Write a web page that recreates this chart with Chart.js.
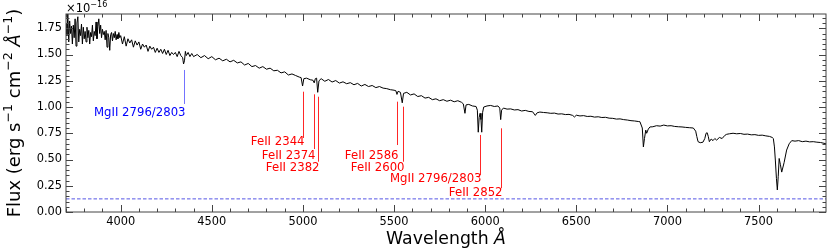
<!DOCTYPE html>
<html>
<head>
<meta charset="utf-8">
<script src="https://cdn.jsdelivr.net/npm/chart.js@4.4.0/dist/chart.umd.min.js"></script>
<style>
html, body { margin: 0; padding: 0; background: #fff; }
#wrap { width: 830px; height: 252px; }
</style>
</head>
<body>
<div id="wrap"><canvas id="spec" width="830" height="252"></canvas></div>
<script>
// spectrum (flux in units of 1e-16)
const wave = [
  3700,3705,3710,3715,3720,3725,3730,3735,3740,3745,
  3750,3755,3760,3765,3770,3775,3780,3785,3790,3795,
  3800,3805,3810,3815,3820,3825,3830,3835,3840,3845,
  3850,3855,3860,3865,3870,3875,3880,3885,3890,3895,
  3900,3905,3910,3915,3920,3925,3930,3935,3940,3945,
  3950,3955,3960,3965,3970,3975,3980,3985,3990,3995,
  4000,4010,4020,4030,4040,4050,4060,4070,4080,4090,
  4100,4110,4120,4130,4140,4150,4160,4170,4180,4190,
  4200,4210,4220,4230,4240,4250,4260,4270,4280,4290,
  4300,4310,4320,4330,4340,4345,4350,4355,4360,4370,
  4380,4390,4400,4420,4440,4460,4480,4500,4520,4540,
  4560,4580,4600,4620,4640,4660,4680,4700,4720,4740,
  4760,4780,4800,4820,4840,4860,4880,4900,4920,4940,
  4960,4980,4990,4998,5005,5020,5040,5055,5062,5068,
  5075,5081,5088,5100,5120,5140,5160,5180,5200,5220,
  5240,5260,5280,5300,5320,5340,5360,5380,5400,5420,
  5440,5460,5480,5500,5510,5516,5522,5535,5545,5552,
  5570,5590,5610,5630,5650,5670,5690,5710,5730,5750,
  5770,5790,5810,5830,5850,5870,5880,5889,5895,5910,
  5930,5950,5957,5962,5967,5972,5977,5981,5986,5992,
  6010,6030,6050,6070,6080,6085,6090,6100,6120,6140,
  6160,6180,6200,6220,6240,6260,6275,6285,6300,6320,
  6340,6360,6380,6400,6420,6440,6460,6480,6490,6500,
  6520,6540,6560,6580,6600,6620,6640,6660,6680,6700,
  6720,6740,6760,6780,6800,6820,6840,6849,6862,6868,
  6874,6881,6886,6895,6904,6920,6940,6960,6980,7000,
  7020,7040,7060,7080,7100,7120,7142,7155,7161,7168,
  7180,7195,7205,7212,7218,7224,7230,7240,7250,7260,
  7270,7285,7300,7315,7325,7340,7360,7380,7400,7420,
  7440,7460,7480,7500,7520,7540,7560,7575,7581,7587,
  7592,7598,7603,7608,7613,7620,7627,7640,7654,7668,
  7682,7700,7720,7740,7760,7780,7800,7820,7840,7870
];
const flux = [
  1.80,1.68,1.89,1.62,1.82,1.70,1.77,1.60,1.78,1.66,
  1.84,1.58,1.80,1.86,1.62,1.74,1.68,1.79,1.60,1.76,
  1.65,1.72,1.62,1.76,1.66,1.73,1.60,1.71,1.67,1.78,
  1.63,1.72,1.68,1.81,1.65,1.77,1.84,1.70,1.78,1.66,
  1.74,1.69,1.72,1.64,1.73,1.57,1.70,1.66,1.54,1.69,
  1.71,1.63,1.70,1.66,1.72,1.64,1.69,1.65,1.71,1.66,
  1.68,1.60,1.67,1.58,1.65,1.61,1.64,1.57,1.63,1.59,
  1.62,1.55,1.60,1.57,1.59,1.53,1.58,1.55,1.57,1.52,
  1.56,1.52,1.55,1.51,1.55,1.50,1.54,1.49,1.52,1.50,
  1.52,1.48,1.53,1.49,1.47,1.41,1.44,1.53,1.49,1.52,
  1.48,1.51,1.48,1.50,1.47,1.49,1.46,1.48,1.45,1.465,
  1.44,1.455,1.43,1.445,1.42,1.43,1.40,1.415,1.385,1.395,
  1.37,1.385,1.36,1.37,1.345,1.35,1.325,1.335,1.305,1.315,
  1.30,1.285,1.28,1.20,1.27,1.275,1.26,1.255,1.23,1.27,
  1.275,1.14,1.25,1.27,1.245,1.262,1.238,1.252,1.228,1.24,
  1.222,1.232,1.212,1.225,1.20,1.215,1.195,1.205,1.185,1.195,
  1.18,1.175,1.165,1.16,1.155,1.12,1.15,1.14,1.04,1.13,
  1.14,1.115,1.125,1.10,1.108,1.085,1.092,1.07,1.078,1.06,
  1.07,1.055,1.065,1.05,1.06,1.045,1.03,0.94,1.02,1.025,
  1.01,1.005,0.97,0.76,0.90,0.94,0.88,0.76,0.95,1.00,
  1.01,1.015,1.005,1.01,0.99,0.88,0.97,0.99,0.98,0.982,
  0.972,0.975,0.962,0.968,0.958,0.955,0.92,0.945,0.952,0.948,
  0.945,0.94,0.942,0.933,0.935,0.928,0.93,0.92,0.905,0.922,
  0.915,0.918,0.91,0.912,0.904,0.907,0.90,0.902,0.894,0.892,
  0.885,0.887,0.88,0.876,0.87,0.867,0.862,0.86,0.80,0.62,
  0.70,0.78,0.75,0.79,0.81,0.812,0.822,0.818,0.828,0.82,
  0.822,0.815,0.812,0.81,0.806,0.803,0.80,0.77,0.72,0.67,
  0.66,0.665,0.70,0.75,0.755,0.72,0.67,0.695,0.68,0.70,
  0.685,0.71,0.70,0.73,0.74,0.745,0.75,0.745,0.748,0.74,
  0.742,0.735,0.737,0.73,0.732,0.725,0.72,0.71,0.70,0.62,
  0.495,0.32,0.21,0.34,0.51,0.45,0.38,0.47,0.59,0.65,
  0.68,0.675,0.68,0.67,0.675,0.668,0.67,0.665,0.662,0.65
];

const xMin = 3700, xMax = 7870;
const yMin = 0, yMax = 1.886;
const xTicks = [4000, 4500, 5000, 5500, 6000, 6500, 7000, 7500];
const yTicks = [0, 0.25, 0.5, 0.75, 1.0, 1.25, 1.5, 1.75];
const noiseLevel = 0.125;

// absorption line markers
const absNames = ['FeII 2344', 'FeII 2374', 'FeII 2382', 'FeII 2586', 'FeII 2600', 'MgII 2796/2803', 'FeII 2852'];
const absWaves = [4998, 5063, 5084, 5518, 5547, 5972, 6087];
const hostNames = ['MgII 2796/2803'];
const hostWaves = [4348];

// marker placement in flux units: [line top, line bottom, label centre]
const absPlace = [
  [1.146, 0.705, 0.667],
  [1.121, 0.600, 0.536],
  [1.098, 0.479, 0.416],
  [1.051, 0.638, 0.536],
  [1.003, 0.479, 0.416],
  [0.734, 0.352, 0.312],
  [0.797, 0.226, 0.178]
];
const hostPlace = [[1.353, 1.029, 0.946]];

const FONT = "'DejaVu Sans', sans-serif";

function drawMarks(ctx, xs, ys, names, waves, place, lineColor, textColor) {
  ctx.save();
  ctx.font = '11.7px ' + FONT;
  ctx.textAlign = 'right';
  ctx.textBaseline = 'middle';
  names.forEach((name, i) => {
    const px = Math.round(xs.getPixelForValue(waves[i])) + 0.5;
    ctx.strokeStyle = lineColor;
    ctx.lineWidth = 1;
    ctx.beginPath();
    ctx.moveTo(px, ys.getPixelForValue(place[i][0]));
    ctx.lineTo(px, ys.getPixelForValue(place[i][1]));
    ctx.stroke();
    ctx.fillStyle = textColor;
    ctx.fillText(name, px + 1, ys.getPixelForValue(place[i][2]));
  });
  ctx.restore();
}

// draws pieces of text with superscripts, left to right from x
function drawPieces(ctx, pieces, x, y, size) {
  pieces.forEach(p => {
    const s = p.sup ? size * 0.7 : size;
    ctx.font = (p.it ? 'italic ' : '') + s + 'px ' + FONT;
    ctx.fillText(p.t, x, p.sup ? y - size * 0.42 : y);
    x += ctx.measureText(p.t).width;
  });
}
function piecesWidth(ctx, pieces, size) {
  let w = 0;
  pieces.forEach(p => {
    const s = p.sup ? size * 0.7 : size;
    ctx.font = (p.it ? 'italic ' : '') + s + 'px ' + FONT;
    w += ctx.measureText(p.t).width;
  });
  return w;
}

const framePlugin = {
  id: 'frame',
  afterDatasetsDraw(chart) {
    const ctx = chart.ctx, a = chart.chartArea;
    const xs = chart.scales.x, ys = chart.scales.y;

    drawMarks(ctx, xs, ys, absNames, absWaves, absPlace, 'rgba(255,0,0,0.85)', '#ff0000');
    drawMarks(ctx, xs, ys, hostNames, hostWaves, hostPlace, 'rgba(0,0,255,0.55)', '#0000ff');

    ctx.save();
    ctx.strokeStyle = '#444';
    ctx.lineWidth = 1;
    ctx.strokeRect(a.left, a.top, a.right - a.left, a.bottom - a.top);
    ctx.beginPath();
    // x ticks (major 500, minor 100), inward on bottom and top
    for (let v = 3700; v <= xMax; v += 100) {
      const len = xTicks.includes(v) ? 7 : 3.5;
      const px = Math.round(xs.getPixelForValue(v)) + 0.5;
      ctx.moveTo(px, a.bottom); ctx.lineTo(px, a.bottom - len);
      ctx.moveTo(px, a.top); ctx.lineTo(px, a.top + len);
    }
    // y ticks (major 0.25, minor 0.05), inward on left and right
    for (let k = 0; k * 0.05 <= yMax; k++) {
      const v = k * 0.05;
      const len = k % 5 === 0 ? 7 : 3.5;
      const py = Math.round(ys.getPixelForValue(v)) + 0.5;
      ctx.moveTo(a.left, py); ctx.lineTo(a.left + len, py);
      ctx.moveTo(a.right, py); ctx.lineTo(a.right - len, py);
    }
    ctx.stroke();
    ctx.restore();
  },
  afterDraw(chart) {
    const ctx = chart.ctx, a = chart.chartArea;
    ctx.save();
    ctx.fillStyle = '#000';
    ctx.textBaseline = 'alphabetic';
    ctx.textAlign = 'left';

    // offset text
    drawPieces(ctx, [{ t: '×10' }, { t: '−16', sup: true }], a.left, 12, 11.5);

    // x title
    const xt = [{ t: 'Wavelength ' }, { t: 'Å', it: true }];
    const xw = piecesWidth(ctx, xt, 17.3);
    drawPieces(ctx, xt, (a.left + a.right) / 2 - xw / 2, 244, 17.3);

    // y title, rotated
    const yt = [
      { t: 'Flux (erg s' }, { t: '−1', sup: true }, { t: ' cm' }, { t: '−2', sup: true },
      { t: ' ' }, { t: 'Å', it: true }, { t: '−1', sup: true }, { t: ')' }
    ];
    const yw = piecesWidth(ctx, yt, 18);
    ctx.translate(20, (a.top + a.bottom) / 2);
    ctx.rotate(-Math.PI / 2);
    drawPieces(ctx, yt, -yw / 2, 0, 18);
    ctx.restore();
  }
};

new Chart(document.getElementById('spec'), {
  type: 'line',
  data: {
    datasets: [
      {
        data: wave.map((w, i) => ({ x: w, y: flux[i] })),
        borderColor: '#000',
        borderWidth: 1,
        pointRadius: 0,
        fill: false,
        tension: 0
      },
      {
        data: [{ x: xMin, y: noiseLevel }, { x: xMax, y: noiseLevel }],
        borderColor: 'rgba(30,30,220,0.75)',
        borderWidth: 1,
        borderDash: [3.5, 2],
        pointRadius: 0,
        fill: false
      }
    ]
  },
  options: {
    responsive: false,
    devicePixelRatio: 1,
    animation: false,
    events: [],
    layout: { padding: { top: 14, right: 4, left: 0, bottom: 0 } },
    plugins: { legend: { display: false }, tooltip: { enabled: false } },
    scales: {
      x: {
        type: 'linear',
        min: xMin,
        max: xMax,
        grid: { display: false, drawTicks: false },
        border: { display: false },
        ticks: {
          color: '#000',
          font: { family: FONT, size: 11.4 },
          padding: 3,
          maxRotation: 0,
          callback: v => String(v)
        },
        afterBuildTicks: s => { s.ticks = xTicks.map(v => ({ value: v })); },
        afterFit: s => { s.height = 40; }
      },
      y: {
        min: yMin,
        max: yMax,
        grid: { display: false, drawTicks: false },
        border: { display: false },
        ticks: {
          color: '#000',
          font: { family: FONT, size: 11.4 },
          padding: 4,
          callback: v => v.toFixed(2)
        },
        afterBuildTicks: s => { s.ticks = yTicks.map(v => ({ value: v })); },
        afterFit: s => { s.width = 66; }
      }
    }
  },
  plugins: [framePlugin]
});
</script>
</body>
</html>
